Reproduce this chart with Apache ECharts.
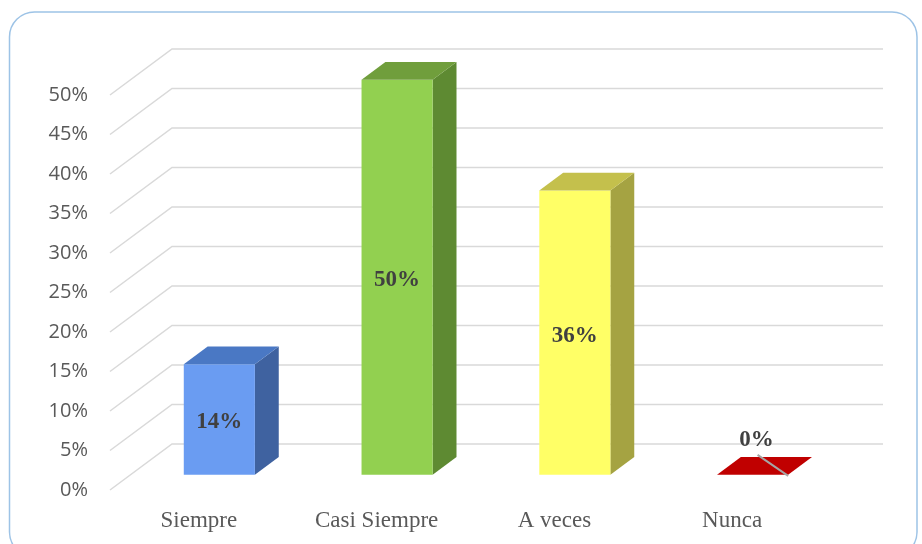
<!DOCTYPE html>
<html>
<head>
<meta charset="utf-8">
<script src="https://cdn.jsdelivr.net/npm/echarts@6/dist/echarts.min.js"></script>
<style>
  html, body { margin: 0; padding: 0; background: #ffffff; }
  #chart { width: 922px; height: 544px; }
</style>
</head>
<body>
<div id="chart"></div>
<script>
// Survey answers and their shares
const categories = ['Siempre', 'Casi Siempre', 'A veces', 'Nunca'];
const shares = [0.14, 0.50, 0.36, 0.00];
// Value-axis ticks (0% .. 50% every 5%)
const yTicks = [0, 0.05, 0.10, 0.15, 0.20, 0.25, 0.30, 0.35, 0.40, 0.45, 0.50];

// Face colours per bar: front, top, side
const palette = [
  { front: '#6A9CF2', top: '#4A78C4', side: '#3F62A0' },
  { front: '#92D050', top: '#709E3C', side: '#5E8A32' },
  { front: '#FFFF66', top: '#C4C04C', side: '#A5A342' },
  { front: '#C00000', top: '#C00000', side: '#900000' }
];

// Oblique depth of the plot box and where the bars sit inside it
const DEPTH = [62, -46];
const BAR_FRONT = 0.33;
const BAR_BACK = 0.715;
const BAR_WIDTH = 0.40;
const GRID_COLOR = '#D9D9D9';

const pct = v => Math.round(v * 100) + '%';

const chart = echarts.init(document.getElementById('chart'), null, { renderer: 'canvas' });

function renderWalls(params, api) {
  const cs = params.coordSys;
  const y = api.coord([0, api.value(1)])[1];
  const left = cs.x;
  const right = cs.x + cs.width;
  return {
    type: 'polyline',
    shape: {
      points: [
        [left, y],
        [left + DEPTH[0], y + DEPTH[1]],
        [right + DEPTH[0], y + DEPTH[1]]
      ]
    },
    style: { stroke: GRID_COLOR, lineWidth: 1.5, fill: null },
    silent: true
  };
}

function renderBar(params, api) {
  const i = api.value(0);
  const v = api.value(1);
  const col = palette[i];
  const base = api.coord([i, 0]);
  const top = api.coord([i, v]);
  const bw = api.size([1, 0])[0] * BAR_WIDTH;
  const fx = DEPTH[0] * BAR_FRONT, fy = DEPTH[1] * BAR_FRONT;
  const dx = DEPTH[0] * (BAR_BACK - BAR_FRONT), dy = DEPTH[1] * (BAR_BACK - BAR_FRONT);
  const x0 = base[0] + fx - bw / 2;
  const x1 = x0 + bw;
  const yb = base[1] + fy;
  const yt = top[1] + fy;
  const children = [];
  if (yb - yt > 0.5) {
    children.push({
      type: 'polygon',
      shape: { points: [[x1, yb], [x1, yt], [x1 + dx, yt + dy], [x1 + dx, yb + dy]] },
      style: { fill: col.side }
    });
    children.push({
      type: 'rect',
      shape: { x: x0, y: yt, width: bw, height: yb - yt },
      style: { fill: col.front }
    });
  }
  children.push({
    type: 'polygon',
    shape: { points: [[x0, yt], [x1, yt], [x1 + dx, yt + dy], [x0 + dx, yt + dy]] },
    style: { fill: col.top }
  });
  const labelStyle = {
    text: pct(v),
    fill: '#404040',
    font: 'bold 23px "Liberation Serif", "Times New Roman", serif',
    align: 'center',
    verticalAlign: 'middle'
  };
  if (yb - yt > 30) {
    children.push({
      type: 'text',
      style: Object.assign({ x: (x0 + x1) / 2, y: (yt + yb) / 2 + 3 }, labelStyle)
    });
  } else {
    // Flat bar: label sits above with a leader line to the front corner
    const lx = (x0 + x1) / 2 + 4;
    const ly = yt - 35;
    children.push({
      type: 'line',
      shape: { x1: lx + 1, y1: ly + 15, x2: x1, y2: yb + 1 },
      style: { stroke: '#A6A6A6', lineWidth: 2 }
    });
    children.push({ type: 'text', style: Object.assign({ x: lx, y: ly }, labelStyle) });
  }
  return { type: 'group', children: children };
}

chart.setOption({
  animation: false,
  backgroundColor: '#ffffff',
  graphic: [{
    type: 'rect',
    shape: { x: 9.5, y: 12, width: 907.5, height: 545, r: 25 },
    style: { fill: null, stroke: '#9DC3E6', lineWidth: 1.5 },
    silent: true,
    z: 100
  }],
  grid: { left: 110, right: 101, top: 95, bottom: 54, containLabel: false },
  xAxis: {
    type: 'category',
    data: categories,
    axisLine: { show: false },
    axisTick: { show: false },
    splitLine: { show: false },
    axisLabel: {
      color: '#595959',
      fontFamily: '"Liberation Serif", "Times New Roman", serif',
      fontSize: 23,
      margin: 19
    }
  },
  yAxis: {
    type: 'value',
    min: 0,
    max: 0.5,
    interval: 0.05,
    axisLine: { show: false },
    axisTick: { show: false },
    splitLine: { show: false },
    axisLabel: {
      color: '#595959',
      fontFamily: '"Open Sans", sans-serif',
      fontSize: 20,
      margin: 22,
      formatter: pct
    }
  },
  series: [
    {
      type: 'custom',
      renderItem: renderWalls,
      clip: false,
      silent: true,
      z: 1,
      data: yTicks.map(t => [0, t])
    },
    {
      type: 'custom',
      renderItem: renderBar,
      clip: false,
      z: 2,
      data: shares.map((s, i) => [i, s])
    }
  ]
});
</script>
</body>
</html>
